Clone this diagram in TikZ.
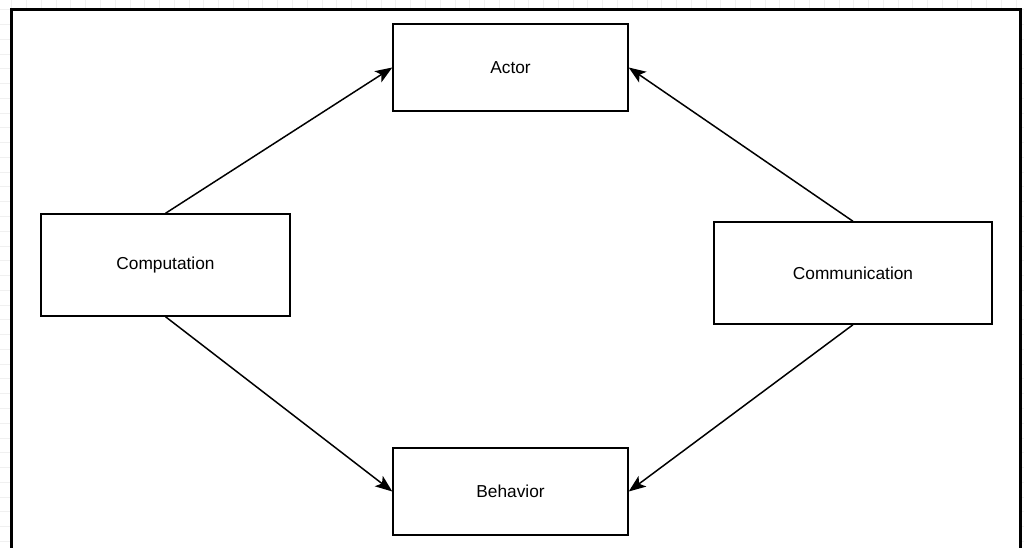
\documentclass[tikz,border=0pt]{standalone}
\usepackage{fontspec}
\setmainfont{Liberation Sans}
\usetikzlibrary{arrows.meta}
\tikzset{
  box/.style={draw=black, line width=1.4pt, fill=white, inner sep=0pt, font=\fontsize{17.3}{20}\selectfont},
  link/.style={draw=black, line width=1.5pt, -{Stealth[length=17pt, width=13pt, inset=4pt]}},
  frame/.style={draw=black, line width=2.8pt, fill=white},
  gridline/.style={draw=black!6, line width=0.6pt}
}
\begin{document}
\begin{tikzpicture}[x=1pt, y=-1pt]
\useasboundingbox (0,0) rectangle (1024,548);
% faint background grid
\foreach \i in {0,...,70} {
  \draw[gridline] ({11.7+\i*14.77-14.77},0) -- ({11.7+\i*14.77-14.77},548);
}
\foreach \j in {0,...,38} {
  \draw[gridline] (0,{9.5+\j*14.77-14.77}) -- (1024,{9.5+\j*14.77-14.77});
}
% frame
\path[frame] (11.5,9.5) rectangle (1020.5,560);
% nodes
\node[box, minimum width=235pt, minimum height=87pt] (actor) at (510.5,67.5) {Actor};
\node[box, minimum width=249pt, minimum height=102pt] (comp) at (165.5,265) {Computation};
\node[box, minimum width=278pt, minimum height=102pt] (comm) at (853,273) {Communication};
\node[box, minimum width=235pt, minimum height=87pt] (beh) at (510.5,491.5) {Behavior};
% connectors
\draw[link] (comp.north) -- (actor.west);
\draw[link] (comp.south) -- (beh.west);
\draw[link] (comm.north) -- (actor.east);
\draw[link] (comm.south) -- (beh.east);
\end{tikzpicture}
\end{document}
